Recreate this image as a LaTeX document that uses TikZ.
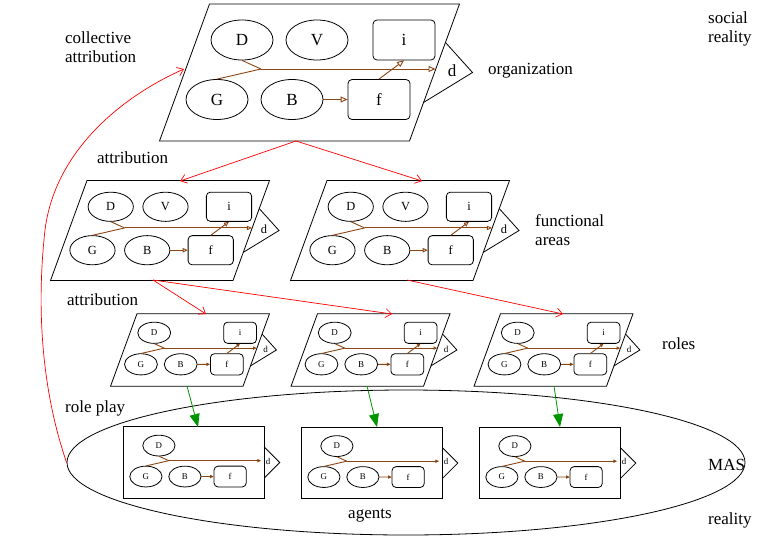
\documentclass[tikz,border=0pt]{standalone}
\usepackage{fontspec}
\setmainfont{Liberation Serif}
\usetikzlibrary{shapes.geometric,arrows.meta}
\definecolor{brn}{RGB}{139,69,19}
\definecolor{grn}{RGB}{0,150,0}
\tikzset{
 blk/.style={draw=black, line width=0.8pt},
 ell/.style={ellipse, draw, line width=0.8pt, minimum width=62pt, minimum height=40pt, inner sep=0pt, font=\fontsize{17}{17}\selectfont},
 bx/.style={rectangle, rounded corners=4pt, draw, line width=0.8pt, minimum width=62pt, minimum height=40pt, inner sep=0pt, font=\fontsize{17}{17}\selectfont},
 dl/.style={inner sep=0pt, font=\fontsize{17}{17}\selectfont},
 brln/.style={draw=brn, line width=0.9pt},
 brarr/.style={draw=brn, line width=0.9pt, -{Triangle[open,length=7pt,width=6pt,scale=#1]}},
 redarr/.style={draw=red, line width=0.7pt, -{Straight Barb[length=6pt,width=9pt]}},
 grnarr/.style={draw=grn, line width=0.8pt, -{Triangle[length=13pt,width=10pt]}},
 lbl/.style={font=\fontsize{17}{19}\selectfont, align=left, inner sep=0pt, anchor=west}
}
\newcommand\blkcore[2]{%
 \node[ell] (#1D) at (-67.5,-32.5) {D};
 \node[ell] (#1G) at (-92.5,27) {G};
 \node[ell] (#1B) at (-17.5,27) {B};
 \node[bx] (#1f) at (69.5,27) {f};
 \node[dl] (#1d) at (142.5,-2) {d};
 \coordinate (#1br) at (-48.5,-3.5);
 \draw[brln] (#1D.south) -- (#1br);
 \draw[brln] (#1G.north) -- (#1br);
 \draw[brarr=#2] (#1B) -- (#1f);
}
\newcommand\orgblock[4]{%
\begin{scope}[shift={#2}, scale=#3, every node/.append style={transform shape}]
 \draw[blk] (-150,68.5) -- (100,68.5) -- (150,-68.5) -- (-100,-68.5) -- cycle;
 \draw[blk] (136,-30) -- (163,0) -- (114,30);
 \blkcore{#1}{#3}
 \ifnum#4=1 \node[ell] (#1V) at (7.5,-32.5) {V};\fi
 \node[bx] (#1i) at (94.5,-32.5) {i};
 \coordinate (#1de) at (126,-3.5);
 \draw[brarr=#3] (#1f.north) -- (#1i.south);
 \draw[brarr=#3] (#1br) -- (#1de);
\end{scope}}
\newcommand\agentblock[3]{%
\begin{scope}[shift={#2}, scale=#3, every node/.append style={transform shape}]
 \draw[blk] (-135,-68.5) rectangle (135,68.5);
 \draw[blk] (135,-30) -- (165,0) -- (135,30);
 \blkcore{#1}{#3}
 \coordinate (#1de) at (129,-3.5);
 \draw[brarr=#3] (#1br) -- (#1de);
\end{scope}}
\begin{document}
\begin{tikzpicture}[x=1pt,y=-1pt]
\useasboundingbox (0,0) rectangle (762,538);
\orgblock{o}{(309.5,72.5)}{1}{1}
\orgblock{ma}{(160,230.5)}{0.73}{1}
\orgblock{mb}{(400,230.5)}{0.73}{1}
\orgblock{ra}{(190,350)}{0.53}{0}
\orgblock{rb}{(370.5,350)}{0.53}{0}
\orgblock{rc}{(553.5,350)}{0.53}{0}
\agentblock{aa}{(194,462.5)}{0.52}
\agentblock{ab}{(372,463)}{0.52}
\agentblock{ac}{(550,463)}{0.52}
\node[draw, ellipse, line width=0.8pt, minimum width=678pt, minimum height=145pt, inner sep=0pt] (mas) at (406,462.5) {};
% connector end points
\coordinate (os) at (296,141);
\coordinate (man) at (180,181);
\coordinate (mbn) at (422,181);
\coordinate (mas1) at (153,280);
\coordinate (mbs) at (407,280);
\coordinate (ran) at (206,314);
\coordinate (rbn) at (392,314);
\coordinate (rcn) at (563,314);
\coordinate (ras) at (187,386);
\coordinate (rbs) at (367,386);
\coordinate (rcs) at (554,386);
\coordinate (aan) at (198,427);
\coordinate (abn) at (377,427);
\coordinate (acn) at (560,427);
\coordinate (cat) at (184,69);
\draw[redarr] (os) -- (man);
\draw[redarr] (os) -- (mbn);
\draw[redarr] (mas1) -- (ran);
\draw[redarr] (mas1) -- (rbn);
\draw[redarr] (mbs) -- (rcn);
\draw[grnarr] (ras) -- (aan);
\draw[grnarr] (rbs) -- (abn);
\draw[grnarr] (rcs) -- (acn);
\draw[redarr] (mas.west) .. controls (45,400) and (35,320) .. (45,230) .. controls (55,150) and (123,96) .. (cat);
% labels
\node[lbl] (lcoll) at (65,47) {collective\\attribution};
\node[lbl] (lsoc) at (708,29) {social\\reality};
\node[lbl] (lorg) at (488,71) {organization};
\node[lbl] (latt1) at (97,158) {attribution};
\node[lbl] (lfun) at (535,230) {functional\\areas};
\node[lbl] (latt2) at (67,300) {attribution};
\node[lbl] (lrol) at (662,344) {roles};
\node[lbl] (lrp) at (65,408) {role play};
\node[lbl] (lmas) at (708,465) {MAS};
\node[lbl] (lag) at (348,516) {agents};
\node[lbl] (lrea) at (708,520) {reality};
\end{tikzpicture}
\end{document}
